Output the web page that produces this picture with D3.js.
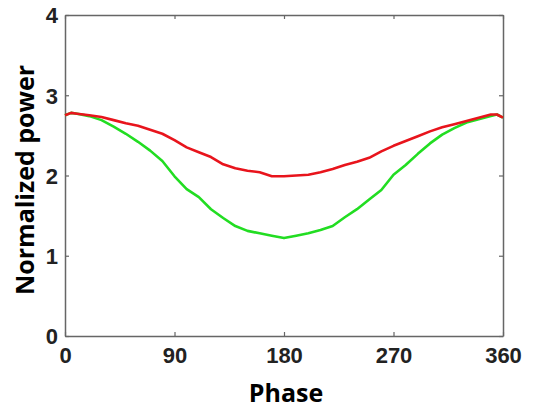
<!DOCTYPE html>
<html>
<head>
    <meta charset="utf-8">
    <script src="https://cdn.jsdelivr.net/npm/d3@7"></script>
    <style>
        body { margin: 0; background: #fff; }
    </style>
</head>
<body>
<svg id="chart" width="537" height="409"></svg>
<script>
    // phase (degrees) and the two normalized power curves
    let phase = [0, 5, 10, 20, 30, 40, 50, 60, 70, 80, 90, 100, 110, 120, 130, 140, 150, 160, 170, 180,
                 190, 200, 210, 220, 230, 240, 250, 260, 270, 280, 290, 300, 310, 320, 330, 340, 350, 355, 360]
    let redPower = [2.75, 2.78, 2.77, 2.75, 2.73, 2.69, 2.65, 2.62, 2.57, 2.52, 2.44, 2.35, 2.29, 2.23, 2.14, 2.09, 2.06, 2.04, 1.99, 1.99,
                    2.00, 2.01, 2.04, 2.08, 2.13, 2.17, 2.22, 2.30, 2.37, 2.43, 2.49, 2.55, 2.60, 2.64, 2.68, 2.72, 2.76, 2.76, 2.72]
    let greenPower = [2.75, 2.78, 2.77, 2.74, 2.69, 2.61, 2.52, 2.42, 2.31, 2.18, 1.99, 1.83, 1.73, 1.58, 1.47, 1.37, 1.31, 1.28, 1.25, 1.22,
                      1.25, 1.28, 1.32, 1.37, 1.48, 1.58, 1.70, 1.82, 2.01, 2.13, 2.27, 2.40, 2.51, 2.59, 2.66, 2.70, 2.74, 2.76, 2.72]
    let xTicks = [0, 90, 180, 270, 360]
    let yTicks = [0, 1, 2, 3, 4]

    let plot = {left: 65, top: 15, right: 503, bottom: 336}
    let svg = d3.select("#chart")

    let x = d3.scaleLinear().domain([0, 360]).range([plot.left, plot.right])
    let y = d3.scaleLinear().domain([0, 4]).range([plot.bottom, plot.top])

    let tickFont = "bold 22px 'Liberation Sans', Arial, sans-serif"
    let axisColor = "#666"

    // bottom axis with labels, ticks pointing inward
    let xAxis = svg.append("g")
        .attr("transform", "translate(0," + plot.bottom + ")")
        .call(d3.axisBottom(x).tickValues(xTicks).tickSize(-4).tickPadding(11).tickSizeOuter(0).tickFormat(d3.format("d")))
    // top axis, ticks only
    let xTop = svg.append("g")
        .attr("transform", "translate(0," + plot.top + ")")
        .call(d3.axisTop(x).tickValues(xTicks).tickSize(-4).tickFormat("").tickSizeOuter(0))
    // left axis with labels
    let yAxis = svg.append("g")
        .attr("transform", "translate(" + plot.left + ",0)")
        .call(d3.axisLeft(y).tickValues(yTicks).tickSize(-4).tickPadding(7).tickSizeOuter(0).tickFormat(d3.format("d")))
    // right axis, ticks only
    let yRight = svg.append("g")
        .attr("transform", "translate(" + plot.right + ",0)")
        .call(d3.axisRight(y).tickValues(yTicks).tickSize(-4).tickFormat("").tickSizeOuter(0))

    for (let g of [xAxis, xTop, yAxis, yRight]) {
        g.select(".domain").attr("stroke", axisColor).attr("stroke-width", 1.5)
        g.selectAll(".tick line").attr("stroke", axisColor).attr("stroke-width", 1.2)
        g.selectAll("text").style("font", tickFont).attr("fill", "#222")
    }
    xAxis.selectAll("text").attr("dy", "0.71em")
    yAxis.selectAll("text").attr("dy", "0.36em")

    let line = vals => d3.line()
        .x((d, i) => x(phase[i]))
        .y(d => y(d))(vals)

    svg.append("path")
        .attr("d", line(greenPower))
        .attr("fill", "none")
        .attr("stroke", "#22dd22")
        .attr("stroke-width", 2.6)
        .attr("stroke-linejoin", "round")

    svg.append("path")
        .attr("d", line(redPower))
        .attr("fill", "none")
        .attr("stroke", "#e8141c")
        .attr("stroke-width", 2.6)
        .attr("stroke-linejoin", "round")

    // axis titles
    svg.append("text")
        .attr("x", (plot.left + plot.right) / 2 + 2)
        .attr("y", 402)
        .attr("text-anchor", "middle")
        .style("font", "bold 25px 'Open Sans', sans-serif")
        .text("Phase")

    svg.append("text")
        .attr("transform", "translate(34,180) rotate(-90)")
        .attr("text-anchor", "middle")
        .style("font", "bold 25px 'Open Sans', sans-serif")
        .text("Normalized power")
</script>
</body>
</html>
